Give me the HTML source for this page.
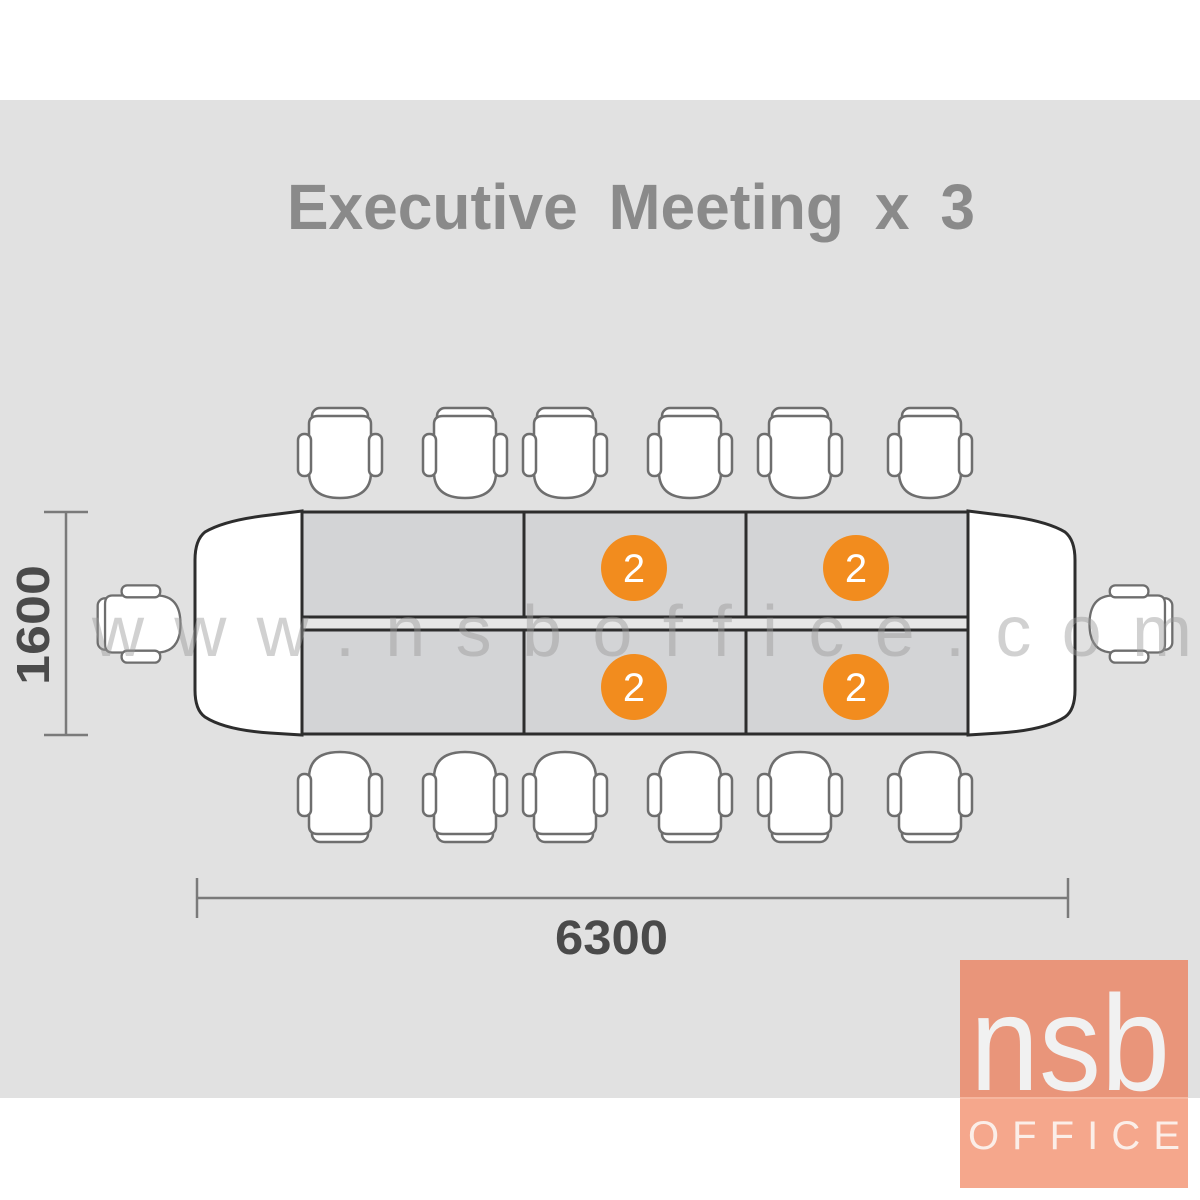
<!DOCTYPE html>
<html><head><meta charset="utf-8"><style>
html,body{margin:0;padding:0;background:#fff}
svg{display:block}
</style></head><body>
<svg width="1200" height="1200" viewBox="0 0 1200 1200" xmlns="http://www.w3.org/2000/svg">
<defs>
<g id="ch" stroke="#6e6e6e" stroke-width="2.5" fill="#fff">
<rect x="-28" y="-46" width="56" height="18" rx="8"/>
<path d="M-31,-30 Q-31,-38 -22,-38 L22,-38 Q31,-38 31,-30 L31,18 Q31,44 0,44 Q-31,44 -31,18 Z"/>
<rect x="-42" y="-20" width="13" height="42" rx="6"/>
<rect x="29" y="-20" width="13" height="42" rx="6"/>
</g>
</defs>
<rect x="0" y="100" width="1200" height="998" fill="#e1e1e1"/>
<text x="287" y="229" textLength="688" lengthAdjust="spacingAndGlyphs" font-family="'Liberation Sans',sans-serif" font-weight="bold" font-size="64" fill="#8a8a8a" word-spacing="14">Executive Meeting x 3</text>

<!-- chairs top -->
<use href="#ch" x="340" y="454"/>
<use href="#ch" x="465" y="454"/>
<use href="#ch" x="565" y="454"/>
<use href="#ch" x="690" y="454"/>
<use href="#ch" x="800" y="454"/>
<use href="#ch" x="930" y="454"/>
<!-- bottom -->
<g transform="translate(340,796) rotate(180)"><use href="#ch"/></g>
<g transform="translate(465,796) rotate(180)"><use href="#ch"/></g>
<g transform="translate(565,796) rotate(180)"><use href="#ch"/></g>
<g transform="translate(690,796) rotate(180)"><use href="#ch"/></g>
<g transform="translate(800,796) rotate(180)"><use href="#ch"/></g>
<g transform="translate(930,796) rotate(180)"><use href="#ch"/></g>
<!-- sides -->
<g transform="translate(140,624) rotate(-90) scale(0.92)"><use href="#ch"/></g>
<g transform="translate(1130,624) rotate(90) scale(0.92)"><use href="#ch"/></g>

<!-- table -->
<g stroke="#2d2d2d" stroke-width="3">
<path d="M302,511 L270,515 Q225,520 205,532 Q195,540 195,560 L195,690 Q195,710 205,717 Q225,730 270,733 L302,735 Z" fill="#fff"/>
<path d="M968,511 L1000,515 Q1045,520 1065,532 Q1075,540 1075,560 L1075,690 Q1075,710 1065,717 Q1045,730 1000,733 L968,735 Z" fill="#fff"/>
<rect x="302" y="512" width="666" height="105" fill="#d3d4d6"/>
<rect x="302" y="630" width="666" height="104" fill="#d3d4d6"/>
<rect x="302" y="617" width="666" height="13" fill="#e6e6e6"/>
<line x1="524" y1="512" x2="524" y2="617"/><line x1="746" y1="512" x2="746" y2="617"/>
<line x1="524" y1="630" x2="524" y2="734"/><line x1="746" y1="630" x2="746" y2="734"/>
</g>

<!-- watermark -->
<text x="92" y="656" textLength="1100" lengthAdjust="spacing" font-family="'Liberation Sans',sans-serif" font-size="72" fill="#9a9a9a" fill-opacity="0.45">www.nsboffice.com</text>

<g font-family="'Liberation Sans',sans-serif" font-size="40" fill="#fff" text-anchor="middle">
<circle cx="634" cy="568" r="33" fill="#f28c1e"/><text x="634" y="582">2</text>
<circle cx="856" cy="568" r="33" fill="#f28c1e"/><text x="856" y="582">2</text>
<circle cx="634" cy="687" r="33" fill="#f28c1e"/><text x="634" y="701">2</text>
<circle cx="856" cy="687" r="33" fill="#f28c1e"/><text x="856" y="701">2</text>
</g>

<!-- dimensions -->
<g stroke="#7a7a7a" stroke-width="2.5">
<line x1="66" y1="512" x2="66" y2="735"/><line x1="44" y1="512" x2="88" y2="512"/><line x1="44" y1="735" x2="88" y2="735"/>
<line x1="197" y1="898" x2="1068" y2="898"/><line x1="197" y1="878" x2="197" y2="918"/><line x1="1068" y1="878" x2="1068" y2="918"/>
</g>
<text transform="translate(49,685) rotate(-90)" textLength="120" lengthAdjust="spacingAndGlyphs" font-family="'Liberation Sans',sans-serif" font-weight="bold" font-size="46" fill="#4a4a4a">1600</text>
<text x="555" y="954" textLength="113" lengthAdjust="spacingAndGlyphs" font-family="'Liberation Sans',sans-serif" font-weight="bold" font-size="48" fill="#4a4a4a">6300</text>

<!-- logo -->
<rect x="960" y="960" width="228" height="137" fill="#e9957a"/>
<rect x="960" y="1097" width="228" height="91" fill="#f5a78c"/>
<line x1="960" y1="1098" x2="1188" y2="1098" stroke="#f8c4b2" stroke-width="1"/>
<text x="970" y="1090" textLength="200" lengthAdjust="spacingAndGlyphs" font-family="'Liberation Sans',sans-serif" font-size="136" fill="#f1f1f1">nsb</text>
<text x="968" y="1149" textLength="212" lengthAdjust="spacing" font-family="'Liberation Sans',sans-serif" font-size="40" fill="#fbeee8">OFFICE</text>
</svg>
</body></html>
